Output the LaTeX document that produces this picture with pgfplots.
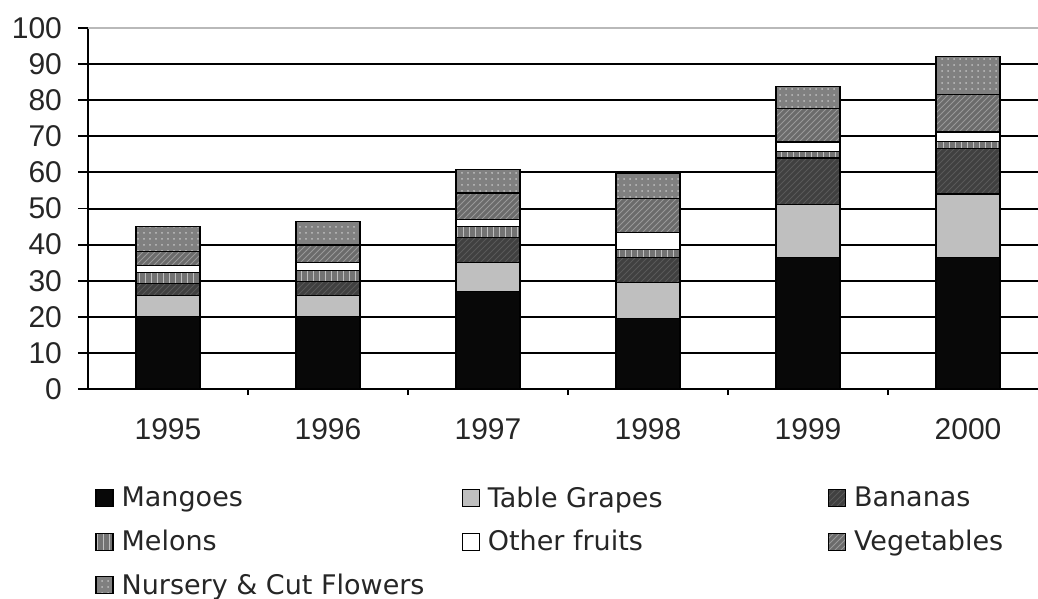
\documentclass[border=0pt]{standalone}
\usepackage{fontspec}
\setmainfont{Liberation Sans}
\newfontfamily\legfont{DejaVu Sans}
\usepackage{pgfplots}
\usepackage{pgfplotstable}
\pgfplotsset{compat=1.18}
\usetikzlibrary{patterns}

\pgfplotstableread{
x Mangoes Grapes Bananas Melons Other Veg Nursery
0 20   6    3.3  3   1.8 4    6.9
1 20   6    3.8  3   2.2 4.9  6.4
2 27   8    7    3   2   7.3  6.6
3 19.5 10   7    2.2 4.6 9.5  6.8
4 36.5 14.5 13   1.9 2.5 9.3  6.0
5 36.5 17.5 12.6 2   2.6 10.4 10.5
}\datatable

\begin{document}
\begin{tikzpicture}
\begin{axis}[
  at={(0,0)}, anchor=south west,
  scale only axis, width=475pt, height=180.5pt,
  xmin=-0.5, xmax=5.4375, ymin=0, ymax=100,
  ybar stacked, bar width=32pt,
  axis x line*=bottom, axis y line*=left,
  axis line style={line width=0.9pt, black},
  xtick={0,...,5}, xticklabels={1995,1996,1997,1998,1999,2000},
  major x tick style={draw=none},
  minor xtick={0.5,1.5,2.5,3.5,4.5},
  ytick={0,10,...,90},
  extra y ticks={100},
  extra y tick style={ymajorgrids=true, grid style={gray!55, line width=1pt}},
  ymajorgrids, grid style={black, line width=1pt},
  tick align=outside,
  major tick length=5pt, minor tick length=3pt,
  tick style={black, line width=0.9pt},
  ticklabel style={font=\fontsize{15}{18}\selectfont, text=black!85},
  xticklabel style={yshift=-6pt},
  yticklabel style={xshift=-4.5pt},
  /pgf/number format/assume math mode=true,
  legend columns=3,
  legend cell align=left,
  legend image code/.code={\draw[#1, draw=black, line width=0.6pt] (0pt,-4.25pt) rectangle (8.5pt,4.25pt);},
  legend style={at={(axis description cs:0.0074,-0.269)}, anchor=north west,
    draw=none, inner sep=0pt, row sep=10pt,
    font=\legfont\fontsize{13.5}{16}\selectfont, text=black!85,
    nodes={inner sep=0pt},
    /tikz/every odd column/.append style={column sep=4pt},
    /tikz/every even column/.append style={column sep=0pt}},
]
\addplot[fill=black!97, draw=black, line width=0.6pt] table[x=x,y=Mangoes]{\datatable};
\addlegendentry{\makebox[170pt][l]{Mangoes}}
\addplot[fill=black!25, draw=black, line width=0.6pt] table[x=x,y=Grapes]{\datatable};
\addlegendentry{\makebox[170pt][l]{Table Grapes}}
\addplot[fill=black!75, draw=black, line width=0.6pt, postaction={pattern=north east lines, pattern color=black!65}] table[x=x,y=Bananas]{\datatable};
\addlegendentry{\makebox[170pt][l]{Bananas}}
\addplot[fill=black!55, draw=black, line width=0.6pt, postaction={pattern=vertical lines, pattern color=black!25}] table[x=x,y=Melons]{\datatable};
\addlegendentry{\makebox[170pt][l]{Melons}}
\addplot[fill=white, draw=black, line width=0.6pt] table[x=x,y=Other]{\datatable};
\addlegendentry{\makebox[170pt][l]{Other fruits}}
\addplot[fill=black!58, draw=black, line width=0.6pt, postaction={pattern=north east lines, pattern color=black!40}] table[x=x,y=Veg]{\datatable};
\addlegendentry{\makebox[170pt][l]{Vegetables}}
\addplot[fill=black!50, draw=black, line width=0.6pt, postaction={pattern=dots, pattern color=black!25}] table[x=x,y=Nursery]{\datatable};
\addlegendentry{\makebox[170pt][l]{Nursery \& Cut Flowers}}
\end{axis}
\pgfresetboundingbox
\path (-44pt,-105pt) rectangle (475pt,194.5pt);
\end{tikzpicture}
\end{document}
